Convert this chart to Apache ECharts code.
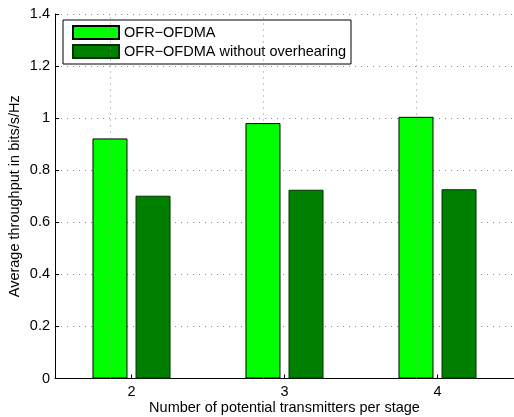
<!DOCTYPE html>
<html><head><meta charset="utf-8">
<script src="https://cdn.jsdelivr.net/npm/echarts@6/dist/echarts.min.js"></script>
<style>html,body{margin:0;padding:0;background:#fff;overflow:hidden}#c{width:514px;height:417px}</style>
</head><body><div id="c"></div>
<script>
const categories = ['2', '3', '4'];
const ofrOfdma = [0.922, 0.981, 1.005];
const ofrNoOverhearing = [0.702, 0.725, 0.727];
const seriesNames = ['OFR\u2212OFDMA', 'OFR\u2212OFDMA without overhearing'];
const yTicks = { min: 0, max: 1.4, interval: 0.2 };

const chart = echarts.init(document.getElementById('c'), null, { renderer: 'canvas' });
const font = 'Liberation Sans, Arial, Helvetica, sans-serif';
const fs = 14.5;
const dotted = { color: '#8a8a8a', width: 1, type: [1, 5] };
chart.setOption({
  animation: false,
  backgroundColor: '#fff',
  textStyle: { fontFamily: font },
  grid: { left: 55, right: 0, top: 14, bottom: 38.5, containLabel: false, outerBoundsMode: 'none' },
  legend: {
    orient: 'vertical', left: 63, top: 20,
    itemWidth: 46, itemHeight: 13, itemGap: 4,
    padding: [5, 5, 5, 9],
    borderColor: '#000', borderWidth: 1, borderRadius: 0, backgroundColor: '#fff',
    textStyle: { fontFamily: font, fontSize: fs, color: '#000', lineHeight: 13 },
    data: seriesNames, icon: 'rect'
  },
  xAxis: {
    type: 'category', data: categories, boundaryGap: true,
    name: 'Number of potential transmitters per stage', nameLocation: 'middle', nameGap: 22,
    nameMoveOverlap: false,
    nameTextStyle: { fontFamily: font, fontSize: fs, color: '#000' },
    axisLine: { lineStyle: { color: '#000', width: 1 } },
    axisTick: { show: true, inside: true, alignWithLabel: true, length: 4, lineStyle: { color: '#000' } },
    axisLabel: { fontFamily: font, fontSize: fs, color: '#000', margin: 6 },
    splitLine: { show: false }
  },
  yAxis: {
    type: 'value', min: yTicks.min, max: yTicks.max, interval: yTicks.interval,
    name: 'Average throughput in bits/s/Hz', nameLocation: 'middle', nameGap: 33,
    nameMoveOverlap: false,
    nameTextStyle: { fontFamily: font, fontSize: fs, color: '#000' },
    axisLine: { show: true, lineStyle: { color: '#000', width: 1 } },
    axisTick: { show: true, inside: true, length: 4, lineStyle: { color: '#000' } },
    axisLabel: { fontFamily: font, fontSize: fs, color: '#000', margin: 5,
      formatter: v => (Math.round(v * 10) / 10).toString() },
    splitLine: { show: true, lineStyle: dotted }
  },
  series: [
    {
      name: seriesNames[0], type: 'bar', data: ofrOfdma, barWidth: 35, barGap: '23%',
      itemStyle: { color: '#00ff00', borderColor: '#000', borderWidth: 1 },
      markLine: {
        silent: true, symbol: 'none', label: { show: false },
        lineStyle: dotted, animation: false,
        data: categories.map(c => ({ xAxis: c }))
      }
    },
    {
      name: seriesNames[1], type: 'bar', data: ofrNoOverhearing, barWidth: 35, barGap: '23%',
      itemStyle: { color: '#008000', borderColor: '#003300', borderWidth: 1 }
    }
  ]
});
</script></body></html>
